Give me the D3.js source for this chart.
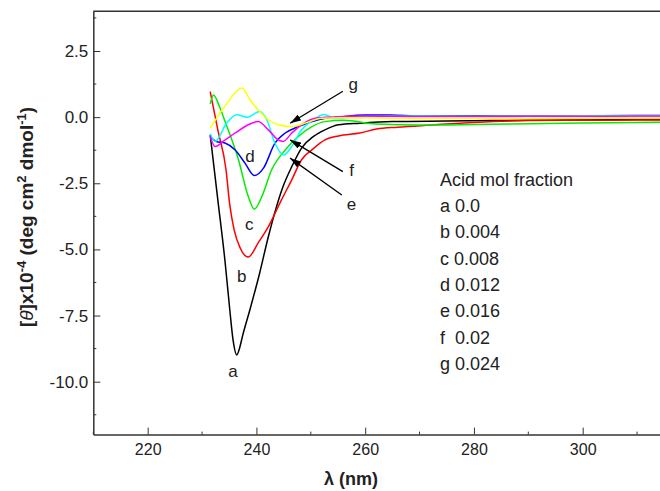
<!DOCTYPE html>
<html>
<head>
<meta charset="utf-8">
<script src="https://cdn.jsdelivr.net/npm/d3@7"></script>
<style>
  body { margin: 0; background: #fff; }
  svg { display: block; font-family: "Liberation Sans", Arial, sans-serif; }
  .tick text { fill: #222; }
  .axis path, .axis line { stroke: #333; }
</style>
</head>
<body>
<svg id="chart" width="660" height="491"></svg>
<script>
// CD spectra, [λ (nm), [θ]x10^-4]
const curveA = [[231.5,-0.67],[232.9,-3.13],[234.2,-5.4],[235.1,-7.28],[235.7,-8.42],[236.4,-8.99],[236.8,-8.8],[237.5,-8.23],[238.8,-7.28],[240.6,-5.89],[242.2,-4.51],[244.9,-2.62],[246.5,-1.87],[248.3,-1.17],[250.5,-0.73],[252.6,-0.48],[255.1,-0.29],[259.0,-0.23],[265,-0.17],[275,-0.15],[290,-0.12],[300,-0.11],[310,-0.09],[320,-0.08]];
const curveB = [[231.5,0.96],[232.9,-0.48],[234.4,-1.98],[235.1,-3.32],[235.9,-4.26],[237.0,-4.94],[238.5,-5.29],[240.3,-4.76],[242.2,-4.14],[244.6,-3.13],[246.5,-2.37],[248.3,-1.61],[250.2,-1.24],[252.6,-0.86],[255.1,-0.71],[259.0,-0.6],[262.1,-0.45],[266,-0.38],[272,-0.3],[280,-0.2],[290,-0.13],[300,-0.12],[310,-0.11],[320,-0.10]];
const curveC = [[231.5,0.5],[232.1,0.84],[233.2,0.4],[234.3,-0.2],[236.7,-1.61],[238.5,-3.0],[239.6,-3.48],[241.0,-3.0],[242.8,-1.99],[245.3,-1.24],[247.7,-0.73],[250.2,-0.36],[252.6,-0.17],[256,-0.12],[262,-0.26],[270,-0.30],[280,-0.28],[290,-0.25],[300,-0.22],[310,-0.20],[320,-0.19]];
const curveD = [[231.5,-0.73],[232.6,-0.92],[234.2,-0.98],[236.1,-1.24],[237.9,-1.74],[239.6,-2.21],[241.3,-1.93],[243.4,-0.98],[245.3,-0.6],[247.7,-0.36],[251.4,-0.10],[255.6,0.01],[260,0.08],[264.6,0.08],[270,0.04],[280,0.05],[290,0.04],[300,0.05],[310,0.06],[320,0.06]];
const curveE = [[231.5,-0.63],[232.4,-0.92],[234.5,-0.23],[236.4,0.09],[238.3,0.0],[240.6,0.21],[241.9,-0.10],[243.4,-0.98],[245.0,-1.43],[246.5,-1.11],[248.3,-0.48],[250.5,-0.10],[252.4,0.1],[254.5,-0.04],[258,0.0],[270,0.04],[280,0.03],[290,0.04],[300,0.05],[310,0.06],[320,0.07]];
const curveF = [[231.5,-0.73],[232.4,-1.11],[234.0,-0.9],[236.1,-0.6],[238.5,-0.29],[240.3,-0.17],[242.2,-0.48],[244.0,-0.86],[244.9,-0.92],[246.5,-0.6],[248.3,-0.29],[250.8,-0.04],[253.5,0.0],[260,0.04],[270,0.02],[280,0.02],[290,0.03],[300,0.03],[310,0.04],[320,0.04]];
const curveG = [[231.5,-0.42],[234.5,0.5],[237.3,1.10],[239.0,0.6],[240.3,0.28],[242.2,-0.10],[244.0,-0.29],[246.5,-0.36],[248.9,-0.23],[252.0,-0.04],[256,-0.02],[270,-0.05],[280,-0.04],[290,-0.05],[300,-0.04],[310,-0.03],[320,-0.03]];

const seriesNames = ['a', 'b', 'c', 'd', 'e', 'f', 'g'];
const seriesData = [curveA, curveB, curveC, curveD, curveE, curveF, curveG];
const seriesColors = ['#000000', '#ff0000', '#00ee00', '#0000ff', '#00ffff', '#ff00ff', '#ffff00'];

const legendTitle = 'Acid mol fraction';
const legendLines = ['a 0.0', 'b 0.004', 'c 0.008', 'd 0.012', 'e 0.016', 'f  0.02', 'g 0.024'];

// curve letters placed at [λ, θ]
const curveLabels = [['a',235.7,-9.82],['b',237.3,-6.23],['c',238.7,-4.26],['d',238.8,-1.69],['e',257.5,-3.5],['f',257.5,-2.22],['g',257.8,1.03]];
// arrows [from λ, from θ, to λ, to θ]
const arrows = [[255.9,0.98,246.2,-0.23],[255.9,-2.06,246.2,-0.86],[255.7,-2.94,246.2,-1.55]];

const xTicks = [220, 240, 260, 280, 300];
const yTicks = [2.5, 0, -2.5, -5, -7.5, -10];

const svg = d3.select('#chart');
const plotLeft = 93.3, plotTop = 11.3, plotBottom = 434.6;

const x = d3.scaleLinear().domain([210, 320]).range([plotLeft, plotLeft + 110 * 5.4375]);
const y = d3.scaleLinear().domain([-12, 4]).range([plotBottom, plotTop]);

// minor ticks
const xMinor = d3.range(210, 321, 10).filter(v => !xTicks.includes(v));
const yMinor = d3.range(-11.25, 4, 2.5);

svg.append('g').selectAll('line').data(xMinor).join('line')
  .attr('x1', d => x(d)).attr('x2', d => x(d))
  .attr('y1', plotBottom).attr('y2', plotBottom - 3)
  .attr('stroke', '#333');
svg.append('g').selectAll('line').data(yMinor).join('line')
  .attr('y1', d => y(d)).attr('y2', d => y(d))
  .attr('x1', plotLeft).attr('x2', plotLeft + 3)
  .attr('stroke', '#333');

const xAxis = svg.append('g').attr('class', 'axis')
  .attr('transform', `translate(0,${plotBottom})`)
  .call(d3.axisBottom(x).tickValues(xTicks).tickSizeInner(-7).tickSizeOuter(0).tickPadding(9));
xAxis.select('.domain').attr('stroke-width', 1.5);
xAxis.selectAll('.tick text').attr('font-size', 16);

const yAxis = svg.append('g').attr('class', 'axis')
  .attr('transform', `translate(${plotLeft},0)`)
  .call(d3.axisLeft(y).tickValues(yTicks).tickSizeInner(-7).tickSizeOuter(0).tickPadding(5));
yAxis.select('.domain').attr('stroke-width', 1.5);
yAxis.selectAll('.tick text').attr('font-size', 17).text(d => d.toFixed(1));

// top frame
svg.append('line')
  .attr('x1', plotLeft).attr('x2', 660).attr('y1', plotTop).attr('y2', plotTop)
  .attr('stroke', '#333').attr('stroke-width', 1.5);

// curves
const line = d3.line().x(d => x(d[0])).y(d => y(d[1])).curve(d3.curveMonotoneX);
svg.append('g').selectAll('path').data(seriesData).join('path')
  .attr('d', line)
  .attr('fill', 'none')
  .attr('stroke', (d, i) => seriesColors[i])
  .attr('stroke-width', 1.5);

// arrows
svg.append('defs').append('marker')
  .attr('id', 'head').attr('viewBox', '0 0 11 7')
  .attr('refX', 11).attr('refY', 3.5)
  .attr('markerWidth', 11).attr('markerHeight', 7)
  .attr('markerUnits', 'userSpaceOnUse')
  .attr('orient', 'auto')
  .append('path').attr('d', 'M0,0 L11,3.5 L0,7 Z').attr('fill', '#000');

svg.append('g').selectAll('line').data(arrows).join('line')
  .attr('x1', d => x(d[0])).attr('y1', d => y(d[1]))
  .attr('x2', d => x(d[2])).attr('y2', d => y(d[3]))
  .attr('stroke', '#000').attr('stroke-width', 1.3)
  .attr('marker-end', 'url(#head)');

// curve letters
svg.append('g').selectAll('text').data(curveLabels).join('text')
  .attr('x', d => x(d[1])).attr('y', d => y(d[2]))
  .attr('text-anchor', 'middle')
  .attr('font-size', 17)
  .attr('fill', '#222')
  .text(d => d[0]);

// legend text
const legend = svg.append('g').attr('font-size', 18).attr('fill', '#222');
legend.append('text').attr('x', 440).attr('y', 186).text(legendTitle);
legend.selectAll('.row').data(legendLines).join('text')
  .attr('class', 'row')
  .attr('x', 440).attr('y', (d, i) => 212 + i * 26.3)
  .style('white-space', 'pre')
  .text(d => d);

// axis titles
svg.append('text')
  .attr('x', 351).attr('y', 485)
  .attr('text-anchor', 'middle')
  .attr('font-size', 18).attr('font-weight', 'bold').attr('fill', '#222')
  .text('λ (nm)');

const yt = svg.append('text')
  .attr('transform', `translate(33,${(plotTop + plotBottom) / 2 - 6}) rotate(-90)`)
  .attr('text-anchor', 'middle')
  .attr('font-size', 19).attr('font-weight', 'bold').attr('fill', '#222');
yt.append('tspan').text('[');
yt.append('tspan').attr('font-style', 'italic').attr('font-weight', 'normal').text('θ');
yt.append('tspan').text(']x10');
yt.append('tspan').attr('font-size', 13).attr('dy', -7).text('-4');
yt.append('tspan').attr('dy', 7).text(' (deg cm');
yt.append('tspan').attr('font-size', 13).attr('dy', -7).text('2');
yt.append('tspan').attr('dy', 7).text(' dmol');
yt.append('tspan').attr('font-size', 13).attr('dy', -7).text('-1');
yt.append('tspan').attr('dy', 7).text(')');
</script>
</body>
</html>
